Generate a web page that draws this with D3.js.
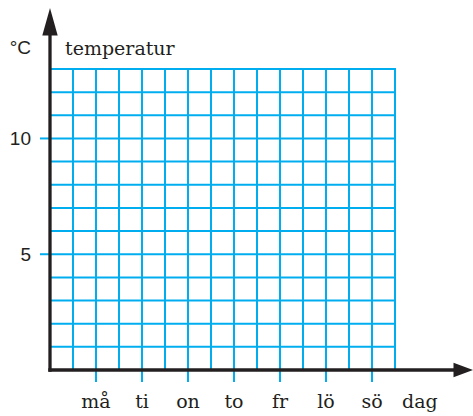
<!DOCTYPE html>
<html><head><meta charset="utf-8">
<script src="https://cdn.jsdelivr.net/npm/d3@7"></script>
<style>body{margin:0;background:#fff}svg{display:block}</style>
</head><body>
<script>
const days = ["må","ti","on","to","fr","lö","sö"];
const yTickValues = [5, 10];
const yMax = 13;          // temperature grid top
const xSteps = 15;        // half-day grid columns
const yLabel = "°C";
const seriesLabel = "temperatur";
const xLabel = "dag";

const W = 473, H = 416;
const blue = "#00aeef", ink = "#231f20";
const svg = d3.select("body").append("svg").attr("width", W).attr("height", H);

const x = d3.scaleLinear().domain([0, xSteps]).range([50, 395]);
const y = d3.scaleLinear().domain([0, yMax]).range([370, 69]);
const dayX = (d, i) => x(2 + 2 * i);

const g = svg.append("g");
// grid
g.selectAll(".h").data(d3.range(1, yMax + 1)).join("line")
  .attr("x1", x(0)).attr("x2", x(xSteps)).attr("y1", d => y(d)).attr("y2", d => y(d))
  .attr("stroke", blue).attr("stroke-width", 2);
g.selectAll(".v").data(d3.range(1, xSteps + 1)).join("line")
  .attr("x1", d => x(d)).attr("x2", d => x(d)).attr("y1", y(0)).attr("y2", y(yMax) - 1)
  .attr("stroke", blue).attr("stroke-width", 2);
// ticks
g.selectAll(".yt").data(yTickValues).join("line")
  .attr("x1", x(0) - 10).attr("x2", x(0)).attr("y1", d => y(d)).attr("y2", d => y(d))
  .attr("stroke", blue).attr("stroke-width", 2);
g.selectAll(".xt").data(days).join("line")
  .attr("x1", dayX).attr("x2", dayX).attr("y1", y(0)).attr("y2", y(0) + 12)
  .attr("stroke", blue).attr("stroke-width", 2);

// axes
svg.append("line").attr("x1", 50).attr("x2", 50).attr("y1", 371.7).attr("y2", 30)
  .attr("stroke", ink).attr("stroke-width", 3.3);
svg.append("line").attr("x1", 48.3).attr("x2", 458).attr("y1", 370).attr("y2", 370)
  .attr("stroke", ink).attr("stroke-width", 3.3);
svg.append("path").attr("d", "M50,8 L42.3,35.5 L57.7,35.5 Z").attr("fill", ink);
svg.append("path").attr("d", "M473,370 L453.5,362.8 L453.5,377.2 Z").attr("fill", ink);

// labels
const serif = "'DejaVu Serif', serif", sans = "'Liberation Sans', sans-serif";
svg.selectAll(".yl").data(yTickValues).join("text")
  .attr("x", 31).attr("y", d => y(d) + 7).attr("text-anchor", "end")
  .attr("font-family", sans).attr("font-size", 19).attr("fill", ink).text(d => d);
svg.append("text").attr("x", 31).attr("y", 54).attr("text-anchor", "end")
  .attr("font-family", sans).attr("font-size", 19).attr("fill", ink).text(yLabel);
svg.append("text").attr("x", 65).attr("y", 55)
  .attr("font-family", serif).attr("font-size", 19).attr("fill", ink).text(seriesLabel);
svg.selectAll(".xl").data(days).join("text")
  .attr("x", dayX).attr("y", 408).attr("text-anchor", "middle")
  .attr("font-family", serif).attr("font-size", 19).attr("fill", ink).text(d => d);
svg.append("text").attr("x", 402).attr("y", 408)
  .attr("font-family", serif).attr("font-size", 19).attr("fill", ink).text(xLabel);
</script>
</body></html>
